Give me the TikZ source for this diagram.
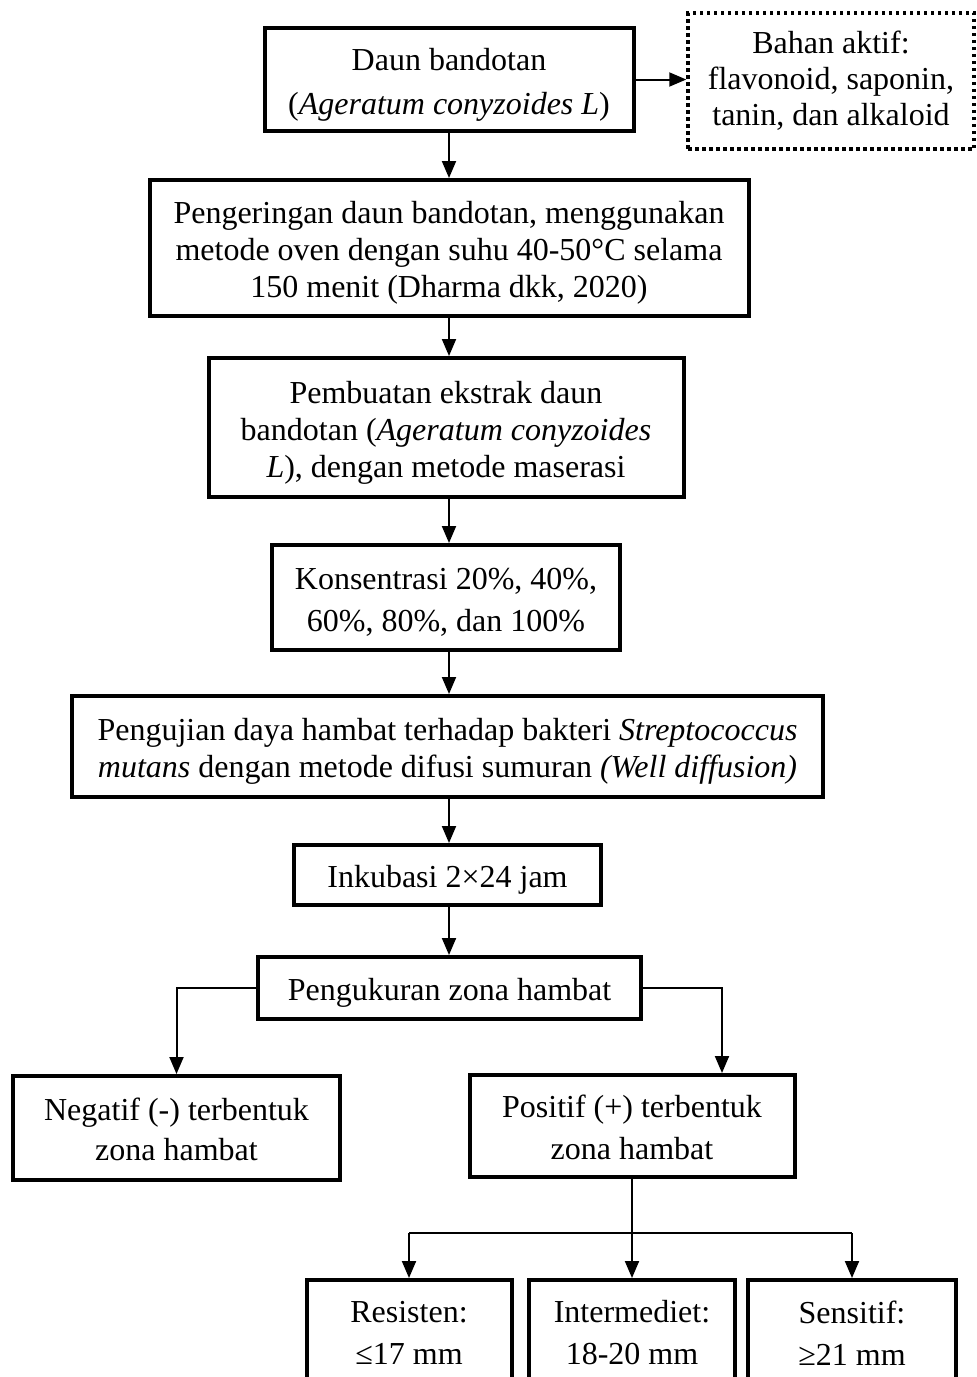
\documentclass[tikz,border=0pt]{standalone}
\usepackage{fontspec}
\setmainfont{Liberation Serif}
\usetikzlibrary{arrows.meta}
\newcommand\tstr{\rule{0pt}{33pt}}
\newcommand\bstr{\rule[-8pt]{0pt}{8pt}}
\begin{document}
\begin{tikzpicture}[x=1pt,y=-1pt,
  box/.style={draw, line width=4pt, inner sep=0pt, align=center, font=\fontsize{32}{37}\selectfont},
  dotbox/.style={draw, line width=3.5pt, dash pattern=on 3.5pt off 3.5pt, inner sep=0pt, align=center, font=\fontsize{32}{36}\selectfont},
  conn/.style={line width=2pt, -{Triangle[length=17pt,width=14pt]}},
  plain/.style={line width=2pt}]
\useasboundingbox (0,0) rectangle (977,1377);
\node[box, minimum width=369pt, minimum height=103pt, font=\fontsize{32}{44}\selectfont] (daun) at (449,79.5) {\tstr Daun bandotan\\(\textit{Ageratum conyzoides L})\bstr};
\node[dotbox, minimum width=286pt, minimum height=136pt] (bahan) at (831,81) {Bahan aktif:\\flavonoid, saponin,\\tanin, dan alkaloid};
\node[box, minimum width=599pt, minimum height=136pt] (kering) at (449,248) {\tstr Pengeringan daun bandotan, menggunakan\\metode oven dengan suhu 40-50°C selama\\150 menit (Dharma dkk, 2020)\bstr};
\node[box, minimum width=475pt, minimum height=139pt] (ekstrak) at (446,427.5) {\tstr Pembuatan ekstrak daun\\bandotan (\textit{Ageratum conyzoides}\\\textit{L}), dengan metode maserasi\bstr};
\node[box, minimum width=348pt, minimum height=105pt, font=\fontsize{32}{42}\selectfont] (kons) at (446,597.5) {\tstr Konsentrasi 20\%, 40\%,\\60\%, 80\%, dan 100\%\bstr};
\node[box, minimum width=751pt, minimum height=101pt] (uji) at (447.5,746.5) {\tstr Pengujian daya hambat terhadap bakteri \textit{Streptococcus}\\\textit{mutans} dengan metode difusi sumuran \textit{(Well diffusion)}\bstr};
\node[box, minimum width=307pt, minimum height=60pt] (inku) at (447.5,875) {\tstr Inkubasi 2×24 jam\bstr};
\node[box, minimum width=383pt, minimum height=62pt] (ukur) at (449.5,988) {\tstr Pengukuran zona hambat\bstr};
\node[box, minimum width=327pt, minimum height=104pt, font=\fontsize{32}{40}\selectfont] (neg) at (176.5,1128) {\tstr Negatif (-) terbentuk\\zona hambat\bstr};
\node[box, minimum width=325pt, minimum height=102pt, font=\fontsize{32}{42}\selectfont] (pos) at (632,1126) {\tstr Positif (+) terbentuk\\zona hambat\bstr};
\node[box, minimum width=205pt, minimum height=106pt, font=\fontsize{32}{42}\selectfont] (res) at (409,1333) {Resisten:\\≤17 mm};
\node[box, minimum width=206pt, minimum height=106pt, font=\fontsize{32}{42}\selectfont] (inter) at (632,1333) {Intermediet:\\18-20 mm};
\node[box, minimum width=208pt, minimum height=106pt, font=\fontsize{32}{42}\selectfont] (sens) at (852,1333) {Sensitif:\\≥21 mm};
\draw[conn] (daun.south) -- (daun.south |- kering.north);
\draw[conn] (daun.east) -- (daun.east -| bahan.west);
\draw[conn] (kering.south) -- (kering.south |- ekstrak.north);
\draw[conn] (kering.south |- ekstrak.south) -- (kering.south |- kons.north);
\draw[conn] (kering.south |- kons.south) -- (kering.south |- uji.north);
\draw[conn] (kering.south |- uji.south) -- (kering.south |- inku.north);
\draw[conn] (kering.south |- inku.south) -- (kering.south |- ukur.north);
\draw[conn] (ukur.west) -| (neg.north);
\draw[conn] (ukur.east) -| (722,0 |- pos.north);
\coordinate (hl) at (409,1233);
\coordinate (hr) at (852,1233);
\draw[plain] (hl) -- (hr);
\draw[conn] (pos.south) -- (inter.north);
\draw[conn] (hl) -- (res.north);
\draw[conn] (hr) -- (sens.north);
\end{tikzpicture}
\end{document}
